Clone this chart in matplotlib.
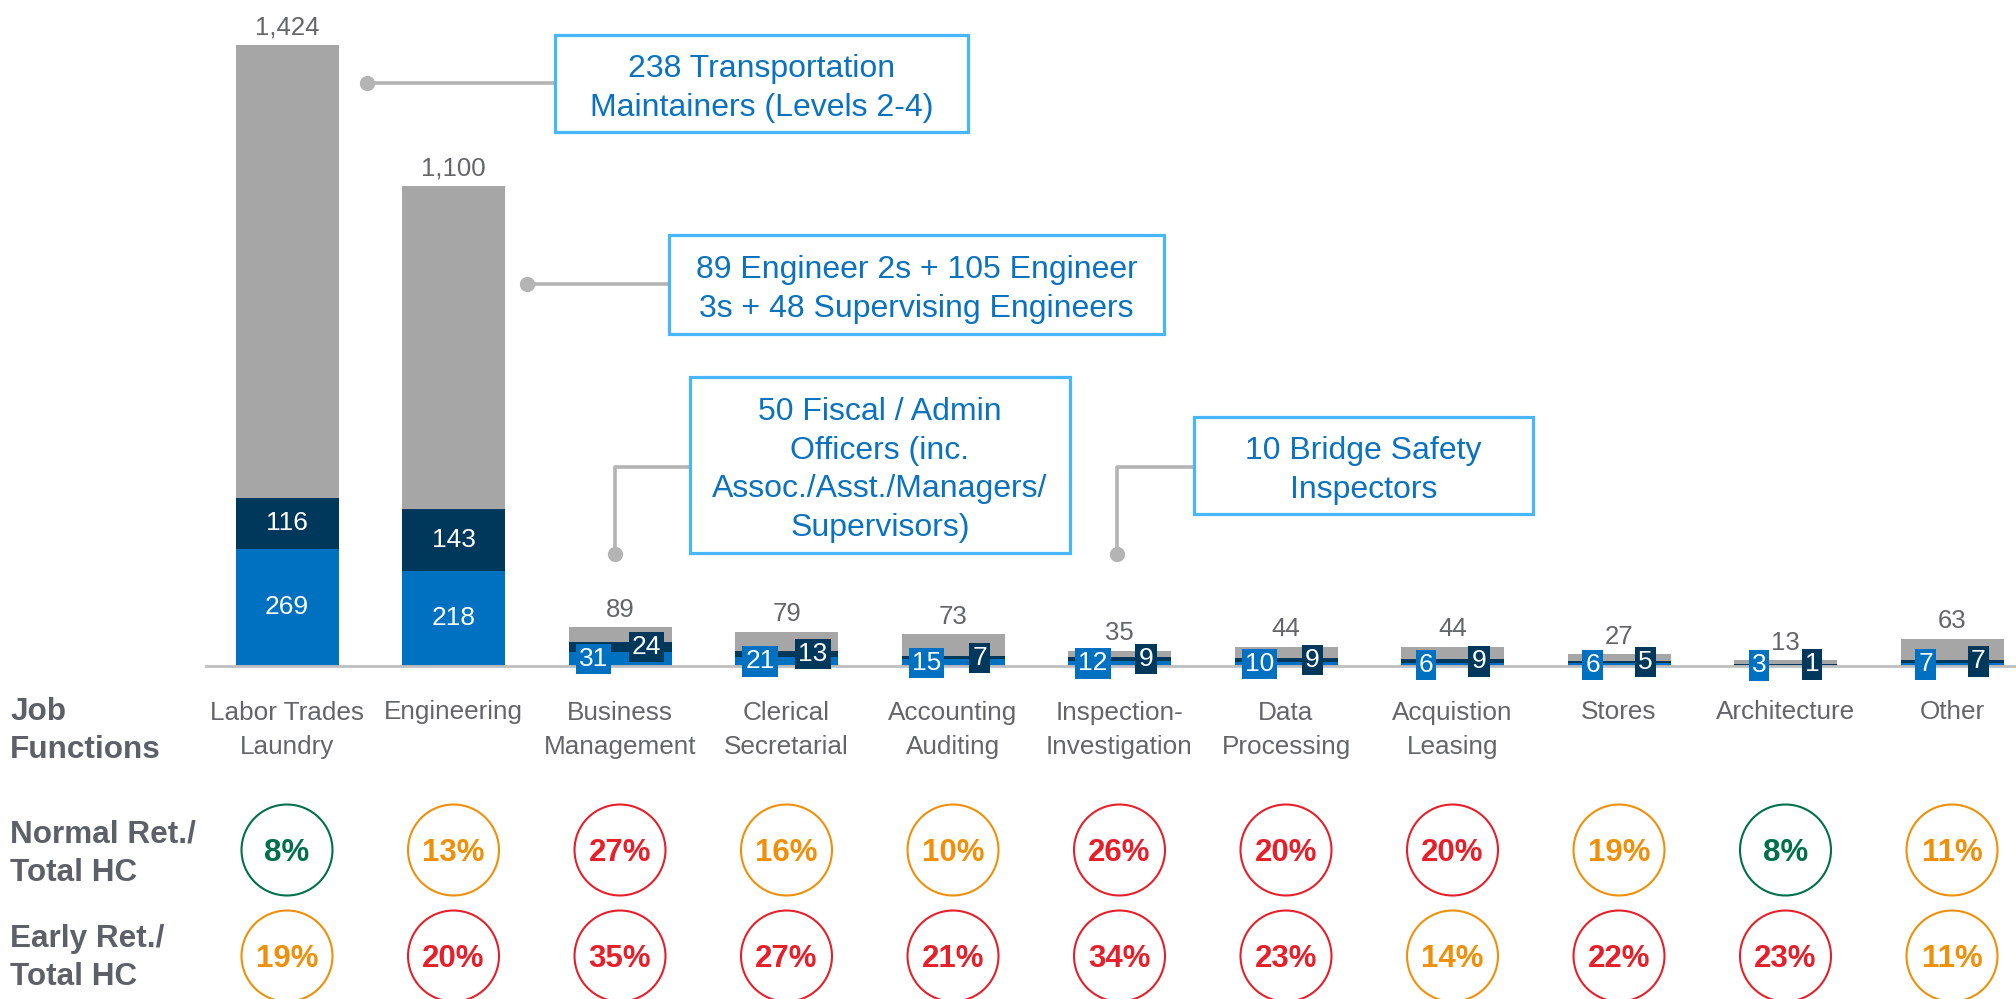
import matplotlib
matplotlib.use("Agg")
import matplotlib.pyplot as plt
from matplotlib.patches import Rectangle

plt.rcParams['font.family'] = ['Liberation Sans', 'DejaVu Sans']

# ---------------- data ----------------
categories = ["Labor Trades\nLaundry", "Engineering", "Business\nManagement", "Clerical\nSecretarial",
              "Accounting\nAuditing", "Inspection-\nInvestigation", "Data\nProcessing", "Acquistion\nLeasing",
              "Stores", "Architecture", "Other"]
total_hc = [1424, 1100, 89, 79, 73, 35, 44, 44, 27, 13, 63]
early_ret = [269, 218, 31, 21, 15, 12, 10, 6, 6, 3, 7]
normal_ret = [116, 143, 24, 13, 7, 9, 9, 9, 5, 1, 7]
normal_pct = [8, 13, 27, 16, 10, 26, 20, 20, 19, 8, 11]
early_pct = [19, 20, 35, 27, 21, 34, 23, 14, 22, 23, 11]
normal_lvl = ["g", "o", "r", "o", "o", "r", "r", "r", "o", "g", "o"]
early_lvl = ["o", "r", "r", "r", "r", "r", "r", "o", "r", "r", "o"]
callouts = ["238 Transportation\nMaintainers (Levels 2-4)",
            "89 Engineer 2s + 105 Engineer\n3s + 48 Supervising Engineers",
            "50 Fiscal / Admin\nOfficers (inc.\nAssoc./Asst./Managers/\nSupervisors)",
            "10 Bridge Safety\nInspectors"]
row_labels = ["Job\nFunctions", "Normal Ret./\nTotal HC", "Early Ret./\nTotal HC"]

# ---------------- styles ----------------
GRAY = "#A6A6A6"
BLUE = "#0070C0"
NAVY = "#00385C"
TXT = "#636569"
CALL_TXT = "#0A72BE"
CALL_EDGE = "#48B6FA"
LINE = "#B4B4B4"
LVL = {"g": "#00704A", "o": "#F0900A", "r": "#E5202B"}

W, H = 2016, 999
fig = plt.figure(figsize=(W / 100, H / 100), dpi=100)

X0, DX = 287.0, 166.5          # pixel x of first bar center, spacing
BASE = 666.0                    # baseline pixel (from top)
SC = 0.436                      # px per unit
xlim = (-X0 / DX, (W - X0) / DX)

ax = fig.add_axes([0, (H - BASE) / H, 1, BASE / H])
ax.set_xlim(*xlim)
ax.set_ylim(0, BASE / SC)
ax.axis("off")

def px(xp, yp):
    return (xp - X0) / DX, (BASE - yp) / SC

x = list(range(len(categories)))
bw = 103 / DX
ax.bar(x, total_hc, width=bw, color=GRAY, zorder=1)
ax.bar(x, early_ret, width=bw, color=BLUE, zorder=2)
ax.bar(x, normal_ret, width=bw, bottom=early_ret, color=NAVY, zorder=2)

# baseline
bx0, _ = px(206, BASE)
ax.plot([bx0, xlim[1]], [0, 0], color="#BFBFBF", lw=2, clip_on=False, zorder=3)

for i in x:
    ax.annotate(f"{total_hc[i]:,}", (i, total_hc[i]), xytext=(0, 4), textcoords="offset points",
                ha="center", va="bottom", fontsize=18.5, color=TXT)
    yb = early_ret[i] / 2
    yn = early_ret[i] + normal_ret[i] / 2
    if early_ret[i] > 100:
        ax.text(i, yb, str(early_ret[i]), ha="center", va="center", fontsize=19, color="white", zorder=5)
        ax.text(i, yn, str(normal_ret[i]), ha="center", va="center", fontsize=19, color="white", zorder=5)
    else:
        off = 26.5 / DX
        ax.text(i - off, yb, str(early_ret[i]), ha="center", va="center", fontsize=19, color="white",
                zorder=5, bbox=dict(boxstyle="square,pad=0.12", fc=BLUE, ec="none"))
        ax.text(i + off, yn, str(normal_ret[i]), ha="center", va="center", fontsize=19, color="white",
                zorder=5, bbox=dict(boxstyle="square,pad=0.12", fc=NAVY, ec="none"))

# callouts: (box x0, x1, y0, y1) in pixels, leader path in pixels
boxes = [(555, 968, 35, 132), (669, 1164, 235, 334), (690, 1070, 377, 553), (1194, 1533, 417, 514)]
paths = [[(367, 83), (555, 83)], [(527, 284), (669, 284)],
         [(615, 554), (615, 467), (690, 467)], [(1117, 554), (1117, 467), (1194, 467)]]
for txt, (x0, x1, y0, y1), path in zip(callouts, boxes, paths):
    pts = [px(a, b) for a, b in path]
    ax.plot([p[0] for p in pts], [p[1] for p in pts], color=LINE, lw=2.6, zorder=4, clip_on=False,
            solid_capstyle="butt")
    ax.plot(pts[0][0], pts[0][1], "o", color=LINE, ms=10, zorder=4, clip_on=False)
    (ax0, ay0), (ax1, ay1) = px(x0, y1), px(x1, y0)
    ax.add_patch(Rectangle((ax0, ay0), ax1 - ax0, ay1 - ay0, fc="white", ec=CALL_EDGE, lw=2.3,
                           zorder=5, clip_on=False))
    tx, ty = px((x0 + x1) / 2, (y0 + y1) / 2 + 5)
    ax.text(tx, ty, txt, ha="center", va="center", fontsize=23,
            color=CALL_TXT, linespacing=1.375, zorder=6)

# ---------------- lower table (pixel units from top) ----------------
ax2 = fig.add_axes([0, 0, 1, (H - BASE) / H])
ax2.set_xlim(*xlim)
ax2.set_ylim(H, BASE)
ax2.axis("off")

CAT_BASE, CAT_STEP = 719, 35
for i in x:
    nlines = categories[i].count("\n") + 1
    ax2.text(i, CAT_BASE + CAT_STEP * (nlines - 1), categories[i], ha="center", va="baseline",
             fontsize=18.8, color=TXT, linespacing=1.52)

row_y = [850, 956]
for ry, pct, lvl in [(row_y[0], normal_pct, normal_lvl), (row_y[1], early_pct, early_lvl)]:
    ax2.scatter(x, [ry] * len(x), s=65.5 ** 2, facecolor="white",
                edgecolor=[LVL[c] for c in lvl], linewidth=1.5, clip_on=False, zorder=2)
    for i in x:
        ax2.text(i, ry + 11, f"{pct[i]}%", ha="center", va="baseline", fontsize=22.5,
                 fontweight="bold", color=LVL[lvl[i]], zorder=3)

# row labels: last-line baselines in pixels from top
for lab, yb in zip(row_labels, [758, 881, 985]):
    ax2.text(10 / DX + xlim[0], yb, lab, ha="left", va="baseline", fontsize=22.7,
             fontweight="bold", color="#5D6066", linespacing=1.35)

fig.savefig("out.png", dpi=100)
